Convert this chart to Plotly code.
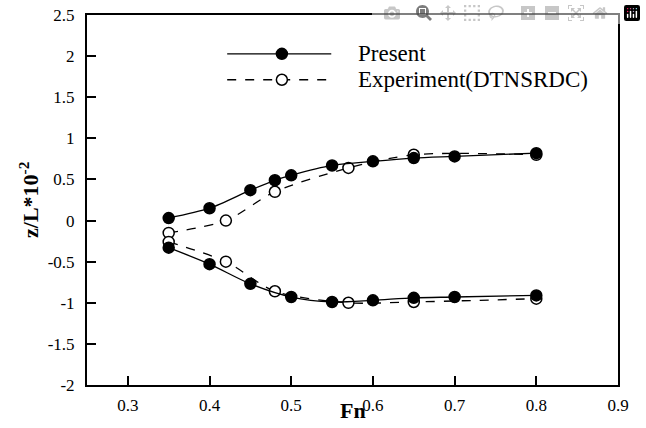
import plotly.graph_objects as go

# Present (computation)
present_upper_fn = [0.35, 0.40, 0.45, 0.48, 0.50, 0.55, 0.60, 0.65, 0.70, 0.80]
present_upper_z = [0.03, 0.15, 0.37, 0.49, 0.55, 0.67, 0.72, 0.76, 0.78, 0.82]
present_lower_fn = [0.35, 0.40, 0.45, 0.50, 0.55, 0.60, 0.65, 0.70, 0.80]
present_lower_z = [-0.33, -0.53, -0.77, -0.93, -0.99, -0.97, -0.94, -0.93, -0.91]

# Experiment (DTNSRDC)
exp_upper_fn = [0.35, 0.42, 0.48, 0.57, 0.65, 0.80]
exp_upper_z = [-0.15, 0.00, 0.35, 0.64, 0.80, 0.80]
exp_lower_fn = [0.35, 0.42, 0.48, 0.57, 0.65, 0.80]
exp_lower_z = [-0.26, -0.50, -0.86, -1.00, -0.99, -0.95]

x_ticks = [0.3, 0.4, 0.5, 0.6, 0.7, 0.8, 0.9]
y_ticks = [-2, -1.5, -1, -0.5, 0, 0.5, 1, 1.5, 2, 2.5]
x_title = "Fn"
y_title = "z/L*10<sup>-2</sup>"

FONT = "Liberation Serif"

fig = go.Figure()

def add(xs, ys, filled, dash):
    fig.add_trace(go.Scatter(
        x=xs, y=ys, mode="lines+markers",
        line=dict(color="black", width=1.3, dash=dash, shape="spline", smoothing=0.8),
        marker=dict(size=11, symbol="circle",
                    color="black" if filled else "white",
                    line=dict(color="black", width=1.5)),
        showlegend=False, hoverinfo="skip"))

add(exp_upper_fn, exp_upper_z, False, "dash")
add(exp_lower_fn, exp_lower_z, False, "dash")
add(present_upper_fn, present_upper_z, True, "solid")
add(present_lower_fn, present_lower_z, True, "solid")

# custom legend (paper coordinates)
shapes = []
annotations = []
legend_items = [("Present", True, "solid", 0.895), ("Experiment(DTNSRDC)", False, "dash", 0.825)]
lx0, lx1, lxm = 0.264, 0.46, 0.367
for label, filled, dash, yy in legend_items:
    shapes.append(dict(type="line", xref="paper", yref="paper", x0=lx0, x1=lx1, y0=yy, y1=yy,
                       line=dict(color="black", width=1.3, dash=dash)))
    shapes.append(dict(type="circle", xref="paper", yref="paper",
                       xsizemode="pixel", ysizemode="pixel", xanchor=lxm, yanchor=yy,
                       x0=-5.5, x1=5.5, y0=-5.5, y1=5.5,
                       fillcolor="black" if filled else "white",
                       line=dict(color="black", width=1.5)))
    annotations.append(dict(xref="paper", yref="paper", x=0.506, y=yy, text=label,
                            showarrow=False, xanchor="left", yanchor="middle",
                            font=dict(family=FONT, size=23, color="black")))

# axis titles
annotations.append(dict(xref="paper", yref="paper", x=0.5, y=0, yshift=-25, text="<b>" + x_title + "</b>",
                        showarrow=False, xanchor="center", yanchor="middle",
                        font=dict(family=FONT, size=22, color="black")))
annotations.append(dict(xref="paper", yref="paper", x=0, xshift=-58, y=0.5, text="<b>" + y_title + "</b>",
                        showarrow=False, xanchor="center", yanchor="middle", textangle=-90,
                        font=dict(family=FONT, size=22, color="black")))

axis_common = dict(showline=True, linecolor="black", linewidth=2, mirror=True,
                   ticks="inside", ticklen=9, tickwidth=1.5, tickcolor="black",
                   showgrid=False, zeroline=False, automargin=False,
                   tickfont=dict(family=FONT, size=17, color="black"))

fig.update_layout(
    width=646, height=428,
    margin=dict(l=87, r=28, t=15, b=43),
    paper_bgcolor="white", plot_bgcolor="white",
    xaxis=dict(range=[0.25, 0.9], tickvals=x_ticks, ticktext=[f"{v:g}" for v in x_ticks],
               ticklabelstandoff=4, **axis_common),
    yaxis=dict(range=[-2, 2.5], tickvals=y_ticks, ticktext=[f"{v:g}" for v in y_ticks],
               ticklabelstandoff=7, **axis_common),
    shapes=shapes, annotations=annotations, showlegend=False,
)

fig.write_html("out.html", post_script="document.body.style.margin='0';")
